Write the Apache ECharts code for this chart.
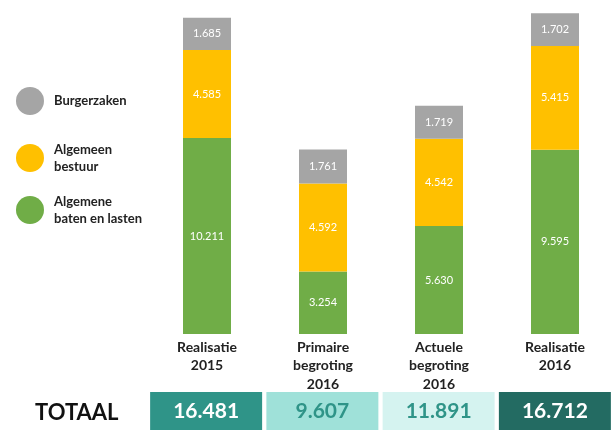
<!DOCTYPE html>
<html>
<head>
<meta charset="utf-8">
<script src="https://cdn.jsdelivr.net/npm/echarts@6/dist/echarts.min.js"></script>
<style>
  html, body { margin: 0; padding: 0; background: #fff; }
  #chart { width: 613px; height: 430px; }
</style>
</head>
<body>
<div id="chart"></div>
<script>
// categorieen en waarden (x 1.000)
var categories = ['Realisatie\n2015', 'Primaire\nbegroting\n2016', 'Actuele\nbegroting\n2016', 'Realisatie\n2016'];
var seriesNames = ['Burgerzaken', 'Algemeen\nbestuur', 'Algemene\nbaten en lasten'];
var batenLasten = [10211, 3254, 5630, 9595];
var bestuur = [4585, 4592, 4542, 5415];
var burgerzaken = [1685, 1761, 1719, 1702];
var totalen = [16481, 9607, 11891, 16712];

var kleuren = { gray: '#a5a5a5', yellow: '#ffc000', green: '#70ad47' };
var boxKleur = ['#2f9488', '#9fe1d9', '#d5f3f0', '#236b62'];
var boxTekst = ['#ffffff', '#2f9488', '#2f9488', '#ffffff'];
var font = 'Lato';

function fmt(v) {
  return String(v).replace(/\B(?=(\d{3})+(?!\d))/g, '.');
}

var chart = echarts.init(document.getElementById('chart'));

function bar(name, data, color) {
  return {
    name: name,
    type: 'bar',
    stack: 'totaal',
    barWidth: 48,
    data: data,
    itemStyle: { color: color },
    label: {
      show: true,
      position: 'inside',
      color: '#fff',
      fontFamily: font,
      fontSize: 11,
      formatter: function (p) { return fmt(p.value); }
    }
  };
}

function legendItem(name, top, color) {
  return {
    data: [{ name: name, itemStyle: { color: color } }],
    orient: 'vertical',
    left: 11,
    top: top,
    icon: 'circle',
    itemWidth: 28,
    itemHeight: 28,
    itemGap: 0,
    selectedMode: false,
    textStyle: { color: '#222', fontFamily: font, fontWeight: 'bold', fontSize: 13, lineHeight: 17, padding: [0, 0, 0, 5] }
  };
}

chart.setOption({
  backgroundColor: '#fff',
  animation: false,
  title: {
    text: 'TOTAAL',
    left: 30,
    top: 397,
    textStyle: { color: '#111', fontFamily: font, fontWeight: 'bold', fontSize: 22 }
  },
  legend: [
    legendItem(seriesNames[0], 82, kleuren.gray),
    legendItem(seriesNames[1], 136, kleuren.yellow),
    legendItem(seriesNames[2], 188, kleuren.green)
  ],
  grid: [
    { left: 149, width: 474, top: 0, height: 334 },
    { left: 148, width: 474, top: 392, height: 38 }
  ],
  xAxis: [
    {
      type: 'category',
      gridIndex: 0,
      data: categories,
      axisLine: { show: false },
      axisTick: { show: false },
      axisLabel: {
        margin: 4,
        color: '#222',
        fontFamily: font,
        fontWeight: 'bold',
        fontSize: 14,
        lineHeight: 18.5,
        verticalAlign: 'top'
      }
    },
    {
      type: 'category',
      gridIndex: 1,
      data: categories,
      show: false
    }
  ],
  yAxis: [
    { type: 'value', gridIndex: 0, min: 0, max: 17400, show: false, splitLine: { show: false } },
    { type: 'value', gridIndex: 1, min: 0, max: 1, show: false, splitLine: { show: false } }
  ],
  series: [
    bar(seriesNames[2], batenLasten, kleuren.green),
    bar(seriesNames[1], bestuur, kleuren.yellow),
    bar(seriesNames[0], burgerzaken, kleuren.gray),
    {
      type: 'bar',
      xAxisIndex: 1,
      yAxisIndex: 1,
      barWidth: 112,
      data: totalen.map(function (t, i) {
        return {
          value: 1,
          total: t,
          itemStyle: { color: boxKleur[i] },
          label: { color: boxTekst[i] }
        };
      }),
      label: {
        show: true,
        position: 'inside',
        fontFamily: font,
        fontWeight: 'bold',
        fontSize: 21,
        formatter: function (p) { return fmt(totalen[p.dataIndex]); }
      }
    }
  ]
});
</script>
</body>
</html>
